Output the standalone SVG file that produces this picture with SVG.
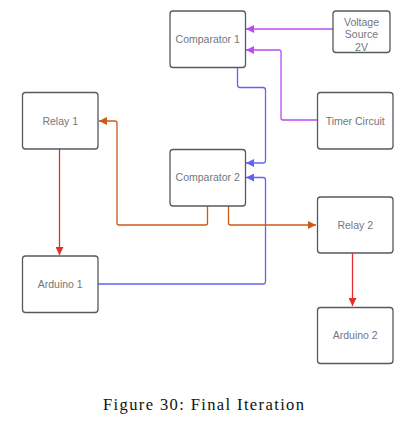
<svg xmlns="http://www.w3.org/2000/svg" width="401" height="422" viewBox="0 0 401 422">
<style>
.node rect{fill:#ffffff;stroke:#555a61;stroke-width:1.3}
.node text{font-family:"Liberation Sans",Arial,sans-serif;font-size:10.5px;fill:#72767d;text-anchor:middle;dominant-baseline:central}
.conn path{fill:none;stroke-width:1.3;stroke-linejoin:round}
.purple{stroke:#b84cf2}
.blue{stroke:#6262f5}
.orange{stroke:#cc5a14}
.red{stroke:#e82a2a}
.caption{font-family:"Liberation Serif","Times New Roman",serif;font-size:16.5px;fill:#111;text-anchor:middle}
</style>
<defs>
<marker id="ap" viewBox="0 0 10 10" refX="10" refY="5" markerWidth="8" markerHeight="8" markerUnits="userSpaceOnUse" orient="auto"><path d="M0,0 L10,5 L0,10 Z" fill="#b84cf2"/></marker>
<marker id="ab" viewBox="0 0 10 10" refX="10" refY="5" markerWidth="8" markerHeight="8" markerUnits="userSpaceOnUse" orient="auto"><path d="M0,0 L10,5 L0,10 Z" fill="#6262f5"/></marker>
<marker id="ao" viewBox="0 0 10 10" refX="10" refY="5" markerWidth="8" markerHeight="8" markerUnits="userSpaceOnUse" orient="auto"><path d="M0,0 L10,5 L0,10 Z" fill="#cc5a14"/></marker>
<marker id="ar" viewBox="0 0 10 10" refX="10" refY="5" markerWidth="8" markerHeight="8" markerUnits="userSpaceOnUse" orient="auto"><path d="M0,0 L10,5 L0,10 Z" fill="#e82a2a"/></marker>
</defs>
<rect width="401" height="422" fill="#ffffff"/>
<g id="connectors" class="conn">
<path class="purple" d="M333,29 L246,29" marker-end="url(#ap)"/>
<path class="purple" d="M317,120 L283,120 Q281,120 281,118 L281,52 Q281,50 279,50 L246,50" marker-end="url(#ap)"/>
<path class="blue" d="M237.5,68 L237.5,85 Q237.5,87.5 240,87.5 L263,87.5 Q265.5,87.5 265.5,90 L265.5,160.5 Q265.5,163 263,163 L246,163" marker-end="url(#ab)"/>
<path class="blue" d="M98,284 L263,284 Q265.5,284 265.5,281.5 L265.5,180 Q265.5,177.5 263,177.5 L246,177.5" marker-end="url(#ab)"/>
<path class="orange" d="M207.5,206 L207.5,223 Q207.5,225 205.5,225 L119,225 Q117,225 117,223 L117,123 Q117,121 115,121 L99,121" marker-end="url(#ao)"/>
<path class="orange" d="M228.5,206 L228.5,223 Q228.5,225 230.5,225 L316,225" marker-end="url(#ao)"/>
<path class="red" d="M59.5,149 L59.5,255" marker-end="url(#ar)"/>
<path class="red" d="M352.5,253 L352.5,306" marker-end="url(#ar)"/>
</g>
<g id="comparator1" class="node"><rect x="170" y="11" width="75.5" height="56.5" rx="3"/><text x="207.7" y="39">Comparator 1</text></g>
<g id="voltage-source" class="node"><rect x="333" y="11" width="57" height="41.5" rx="3"/><text x="361.5" y="22">Voltage</text><text x="361.5" y="34">Source</text><text x="361.5" y="47">2V</text></g>
<g id="timer-circuit" class="node"><rect x="317.5" y="92.5" width="75.5" height="56.5" rx="3"/><text x="355.2" y="120.5">Timer Circuit</text></g>
<g id="relay1" class="node"><rect x="22.5" y="92.5" width="75.5" height="56.5" rx="3"/><text x="60.2" y="120.5">Relay 1</text></g>
<g id="comparator2" class="node"><rect x="170" y="149.5" width="75.5" height="56.5" rx="3"/><text x="207.7" y="177">Comparator 2</text></g>
<g id="relay2" class="node"><rect x="317.5" y="197" width="75.5" height="56" rx="3"/><text x="355.2" y="224.5">Relay 2</text></g>
<g id="arduino1" class="node"><rect x="22.5" y="256" width="75.5" height="56.5" rx="3"/><text x="60.2" y="284">Arduino 1</text></g>
<g id="arduino2" class="node"><rect x="317.5" y="307.5" width="75.5" height="56" rx="3"/><text x="355.2" y="335">Arduino 2</text></g>
<text class="caption" x="203.5" y="410" textLength="201" lengthAdjust="spacing">Figure 30: Final Iteration</text>
</svg>
